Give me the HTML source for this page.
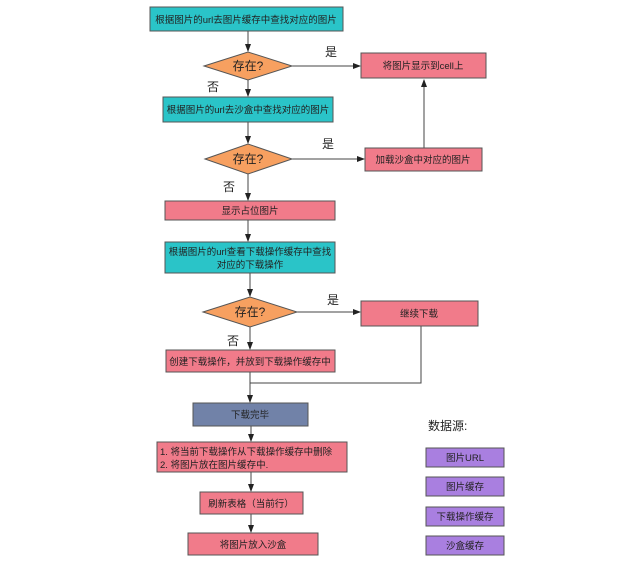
<!DOCTYPE html>
<html><head><meta charset="utf-8"><style>
html,body{margin:0;padding:0;background:#fff}
svg text{font-family:"Liberation Sans","Noto Sans CJK SC",sans-serif;fill:#222}
</style></head><body>
<svg width="640" height="562" viewBox="0 0 640 562" xmlns="http://www.w3.org/2000/svg">
<defs><marker id="a" markerWidth="8" markerHeight="8" refX="7" refY="4" orient="auto" markerUnits="userSpaceOnUse"><path d="M0,1 L8,4 L0,7 Z" fill="#222"/></marker></defs>
<g stroke="#444" stroke-width="1" fill="none">
<line x1="248" y1="31" x2="248" y2="51" marker-end="url(#a)"/>
<line x1="292" y1="66" x2="360" y2="66" marker-end="url(#a)"/>
<line x1="248" y1="80" x2="248" y2="96" marker-end="url(#a)"/>
<line x1="248" y1="122" x2="248" y2="143" marker-end="url(#a)"/>
<line x1="292" y1="159" x2="364" y2="159" marker-end="url(#a)"/>
<line x1="424" y1="148" x2="424" y2="80" marker-end="url(#a)"/>
<line x1="248" y1="174" x2="248" y2="200" marker-end="url(#a)"/>
<line x1="248" y1="220" x2="248" y2="241" marker-end="url(#a)"/>
<line x1="250" y1="273" x2="250" y2="296" marker-end="url(#a)"/>
<line x1="297" y1="312" x2="360" y2="312" marker-end="url(#a)"/>
<line x1="250" y1="327" x2="250" y2="349" marker-end="url(#a)"/>
<polyline points="421,326 421,383 250,383"/>
<line x1="250" y1="372" x2="250" y2="402" marker-end="url(#a)"/>
<line x1="251" y1="426" x2="251" y2="441" marker-end="url(#a)"/>
<line x1="251" y1="472" x2="251" y2="491" marker-end="url(#a)"/>
<line x1="251" y1="514" x2="251" y2="532" marker-end="url(#a)"/>
</g>
<g stroke="#555" stroke-width="1">
<rect x="150" y="7" width="193" height="24" fill="#2ac4c8"/>
<polygon points="204,66 248,52 292,66 248,80" fill="#f7a060"/>
<rect x="361" y="53" width="125" height="25" fill="#f17b8a"/>
<rect x="163" y="97" width="170" height="25" fill="#2ac4c8"/>
<polygon points="205,159 248,144 292,159 248,174" fill="#f7a060"/>
<rect x="365" y="148" width="117" height="23" fill="#f17b8a"/>
<rect x="165" y="201" width="170" height="19" fill="#f17b8a"/>
<rect x="165" y="242" width="170" height="31" fill="#2ac4c8"/>
<polygon points="203,312 250,297 297,312 250,327" fill="#f7a060"/>
<rect x="361" y="301" width="117" height="25" fill="#f17b8a"/>
<rect x="166" y="350" width="169" height="22" fill="#f17b8a"/>
<rect x="193" y="403" width="115" height="23" fill="#7182a8"/>
<rect x="157" y="442" width="190" height="30" fill="#f17b8a"/>
<rect x="200" y="492" width="103" height="22" fill="#f17b8a"/>
<rect x="188" y="533" width="130" height="22" fill="#f17b8a"/>
<rect x="426" y="448" width="78" height="19" fill="#a97fe0"/>
<rect x="426" y="477" width="78" height="19" fill="#a97fe0"/>
<rect x="426" y="507" width="78" height="19" fill="#a97fe0"/>
<rect x="426" y="536" width="78" height="19" fill="#a97fe0"/>
</g>
<g font-size="9.5" text-anchor="middle">
<text x="246" y="23">根据图片的url去图片缓存中查找对应的图片</text>
<text x="423" y="69">将图片显示到cell上</text>
<text x="248" y="113">根据图片的url去沙盒中查找对应的图片</text>
<text x="423" y="163">加载沙盒中对应的图片</text>
<text x="250" y="214">显示占位图片</text>
<text x="250" y="255">根据图片的url查看下载操作缓存中查找</text>
<text x="250" y="268">对应的下载操作</text>
<text x="419" y="317">继续下载</text>
<text x="250" y="365">创建下载操作，并放到下载操作缓存中</text>
<text x="250" y="418">下载完毕</text>
<text x="251" y="507">刷新表格（当前行）</text>
<text x="253" y="548">将图片放入沙盒</text>
<text x="465" y="461">图片URL</text>
<text x="465" y="490">图片缓存</text>
<text x="465" y="520">下载操作缓存</text>
<text x="465" y="549">沙盒缓存</text>
</g>
<g font-size="9.5">
<text x="160" y="455">1. 将当前下载操作从下载操作缓存中删除</text>
<text x="160" y="468">2. 将图片放在图片缓存中.</text>
</g>
<g font-size="12" text-anchor="middle">
<text x="248" y="70">存在?</text>
<text x="248" y="163">存在?</text>
<text x="250" y="316">存在?</text>
<text x="331" y="56">是</text>
<text x="213" y="91">否</text>
<text x="328" y="148">是</text>
<text x="229" y="191">否</text>
<text x="333" y="304">是</text>
<text x="233" y="345">否</text>
<text x="428" y="430" text-anchor="start">数据源:</text>
</g>
</svg>
</body></html>
